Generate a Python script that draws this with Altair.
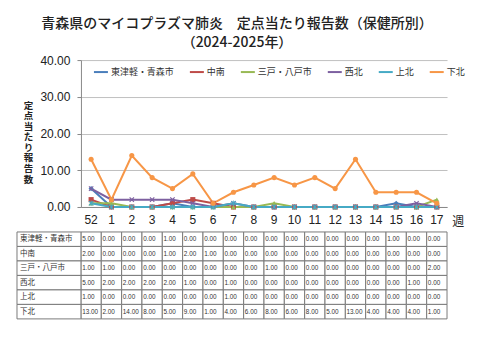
import altair as alt
import pandas as pd

weeks = ["52", "1", "2", "3", "4", "5", "6", "7", "8", "9", "10", "11", "12", "13", "14", "15", "16", "17"]
series = ["東津軽・青森市", "中南", "三戸・八戸市", "西北", "上北", "下北"]
v_higashi = [5, 0, 0, 0, 1, 0, 0, 0, 0, 0, 0, 0, 0, 0, 0, 1, 0, 0]
v_chunan = [2, 0, 0, 0, 1, 2, 1, 0, 0, 0, 0, 0, 0, 0, 0, 0, 0, 0]
v_sannohe = [1, 1, 0, 0, 0, 0, 0, 0, 0, 1, 0, 0, 0, 0, 0, 0, 0, 2]
v_seihoku = [5, 2, 2, 2, 2, 1, 0, 1, 0, 0, 0, 0, 0, 0, 0, 0, 1, 0]
v_kamikita = [1, 0, 0, 0, 0, 0, 0, 1, 0, 0, 0, 0, 0, 0, 0, 0, 0, 0]
v_shimokita = [13, 2, 14, 8, 5, 9, 1, 4, 6, 8, 6, 8, 5, 13, 4, 4, 4, 1]
colors = ["#4A7EBB", "#BE4B48", "#98B954", "#7D60A0", "#46AAC5", "#F79646"]

values = [v_higashi, v_chunan, v_sannohe, v_seihoku, v_kamikita, v_shimokita]
rows = []
for s, vals in zip(series, values):
    for w, v in zip(weeks, vals):
        rows.append({"week": w, "series": s, "value": v, "label": f"{v:.2f}"})
df = pd.DataFrame(rows)
names = pd.DataFrame({"series": series})

xpath_x = "M-1,-0.7L-0.7,-1L0,-0.3L0.7,-1L1,-0.7L0.3,0L1,0.7L0.7,1L0,0.3L-0.7,1L-1,0.7L-0.3,0Z"
star = xpath_x + "M-0.15,-1.1H0.15V1.1H-0.15Z"
shapes = ["diamond", "square", "triangle-up", xpath_x, star, "circle"]

FONT = "Noto Sans CJK JP"
xscale = alt.Scale(type="band", paddingInner=0, paddingOuter=0)
xaxis = alt.Axis(title="週", titleX=377, titleY=15, titleAlign="center",
                 titleBaseline="middle", titleFontSize=12, titleFontWeight="normal",
                 titleFont=FONT, titleColor="#222", labelAngle=0, labelFontSize=12,
                 labelFont="Liberation Sans", labelColor="#222", ticks=False,
                 labelPadding=8, domainColor="#888")
X = alt.X("week:N", sort=weeks, scale=xscale, title="週", axis=xaxis)
color = alt.Color("series:N", sort=series, scale=alt.Scale(domain=series, range=colors),
                  legend=alt.Legend(orient="none", legendX=12, legendY=4, direction="horizontal",
                                    title=None, symbolType="stroke", symbolSize=196,
                                    symbolStrokeWidth=2, labelFontSize=9, labelFont=FONT,
                                    labelOffset=2, columnPadding=11, labelColor="#333"))

Y = alt.Y("value:Q", scale=alt.Scale(domain=[0, 40]),
          axis=alt.Axis(values=[0, 10, 20, 30, 40], format=".2f", labelFontSize=12,
                        labelFont="Liberation Sans", labelColor="#222", gridColor="#c0c0c0",
                        tickSize=4, tickColor="#888", labelPadding=7, domainColor="#888",
                        title=list("定点当たり報告数"), titleAngle=0, titleAlign="center",
                        titleBaseline="top", titleX=-53, titleY=40, titleFontSize=9.5,
                        titleFont=FONT, titleFontWeight="bold", titleLineHeight=10.6,
                        titleColor="#222"))

lines = alt.Chart(df).mark_line(strokeWidth=2).encode(x=X, y=Y, color=color)
point_layers = []
for s, c, shp in zip(series, colors, shapes):
    point_layers.append(
        alt.Chart(df).transform_filter(alt.datum.series == s)
        .mark_point(filled=True, size=26, opacity=1, shape=shp, color=c)
        .encode(x=X, y=Y)
    )
chart_part = alt.layer(lines, *point_layers)

yt = alt.Y("series:N", sort=series,
           scale=alt.Scale(type="band", domain=series, range=[172, 259], paddingInner=0, paddingOuter=0),
           axis=None)
cells = alt.Chart(df).mark_rect(fill="white", stroke="#7a7a7a", strokeWidth=1).encode(x=X, y=yt)
texts = alt.Chart(df).mark_text(align="left", dx=-9, fontSize=6.4, font="Liberation Sans",
                                 color="#333").encode(x=X, y=yt, text="label:N")
lcells = alt.Chart(names).mark_rect(fill="white", stroke="#7a7a7a", strokeWidth=1).encode(
    x=alt.value(-64), x2=alt.value(0), y=yt)
ltexts = alt.Chart(names).mark_text(align="left", fontSize=7.5, font=FONT, color="#333").encode(
    x=alt.value(-61), y=yt, text="series:N")
table_part = alt.layer(cells, texts, lcells, ltexts)

chart = alt.layer(chart_part, table_part).resolve_scale(y="independent").properties(
    width=366.3, height=147,
    autosize=alt.AutoSizeParams(type="none"),
    padding={"left": 73, "top": 52, "right": 25, "bottom": 120},
    title=alt.Title(["青森県のマイコプラズマ肺炎　定点当たり報告数（保健所別）", "（2024-2025年）"],
                    fontSize=14, fontWeight=500, font=FONT, anchor="middle", dx=-27,
                    offset=4, lineHeight=19, color="#222"),
).configure_view(stroke=None)

chart.save("out.html", embed_options={"renderer": "svg", "actions": False})
